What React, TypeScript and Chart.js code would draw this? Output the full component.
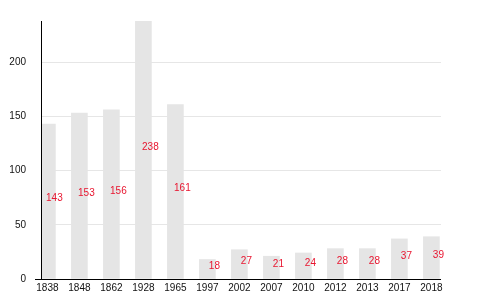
import { useEffect, useRef } from "react";
import { Chart, registerables } from "chart.js";

Chart.register(...registerables);

const years = ["1838", "1848", "1862", "1928", "1965", "1997", "2002", "2007", "2010", "2012", "2013", "2017", "2018"];
const values = [143, 153, 156, 238, 161, 18, 27, 21, 24, 28, 28, 37, 39];
const yTicks = [0, 50, 100, 150, 200];

const FONT = "'Liberation Sans', Arial, Helvetica, sans-serif";

export default function App() {
  const ref = useRef<HTMLCanvasElement | null>(null);

  useEffect(() => {
    document.body.style.margin = "0";
    const labelPlugin = {
      id: "midLabels",
      afterDatasetsDraw(chart: any) {
        const ctx = chart.ctx;
        const meta = chart.getDatasetMeta(0);
        const ys = chart.scales.y;
        const area = chart.chartArea;
        ctx.save();
        // axis lines drawn over the bars
        ctx.strokeStyle = "#000";
        ctx.lineWidth = 1;
        const yb = Math.round(area.bottom) + 0.5;
        const xl = Math.round(area.left) + 0.5;
        ctx.beginPath();
        ctx.moveTo(area.left - 6, yb);
        ctx.lineTo(area.right, yb);
        ctx.moveTo(xl, area.top);
        ctx.lineTo(xl, yb);
        ctx.stroke();

        ctx.font = `10px ${FONT}`;
        ctx.fillStyle = "#e8152f";
        ctx.textAlign = "center";
        ctx.textBaseline = "middle";
        meta.data.forEach((bar: any, i: number) => {
          ctx.fillText(String(values[i]), bar.x + 7, ys.getPixelForValue(values[i] / 2) - 3);
        });
        ctx.restore();
      },
    };

    const chart = new Chart(ref.current as HTMLCanvasElement, {
      type: "bar",
      data: {
        datasets: [
          {
            data: values.map((v, i) => ({ x: i, y: v })),
            backgroundColor: "#e5e5e5",
            barThickness: 16,
          },
        ],
      },
      options: {
        animation: false,
        responsive: false,
        plugins: { legend: { display: false }, tooltip: { enabled: false } },
        layout: { padding: { top: 20, right: 39, left: 0, bottom: 0 } },
        scales: {
          x: {
            type: "linear",
            offset: false,
            min: -0.2,
            max: 12.3,
            afterBuildTicks: (s: any) => {
              s.ticks = years.map((_, i) => ({ value: i }));
            },
            afterFit: (s: any) => {
              s.height = 20;
            },
            grid: { display: false, drawTicks: false, offset: false },
            border: { display: false },
            ticks: {
              callback: (v: any) => years[v as number] ?? "",
              font: { family: FONT, size: 10 },
              color: "#111",
              padding: 3,
              maxRotation: 0,
              autoSkip: false,
            },
          },
          y: {
            min: 0,
            max: 238,
            afterBuildTicks: (s: any) => {
              s.ticks = yTicks.map((v) => ({ value: v }));
            },
            afterFit: (s: any) => {
              s.width = 41;
            },
            grid: { color: "#e6e6e6", drawTicks: false },
            border: { display: false },
            ticks: {
              font: { family: FONT, size: 10 },
              color: "#111",
              padding: 15,
            },
          },
        },
      } as any,
      plugins: [labelPlugin],
    });
    return () => chart.destroy();
  }, []);

  return (
    <div style={{ position: "absolute", left: 0, top: 0, width: 480, height: 300, background: "#fff" }}>
      <canvas ref={ref} width={480} height={300} style={{ display: "block", width: 480, height: 300 }} />
    </div>
  );
}
